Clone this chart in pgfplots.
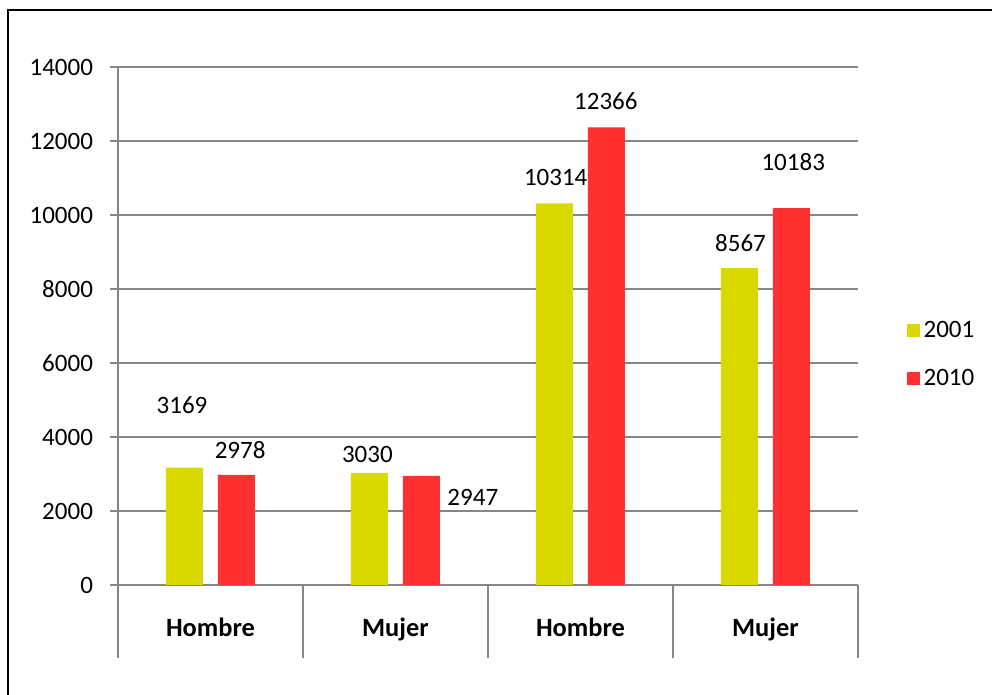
\documentclass[border=0pt]{standalone}
\usepackage{fontspec}
\setmainfont{Carlito}
\usepackage{pgfplots}
\pgfplotsset{compat=1.18}
\definecolor{cy}{RGB}{217,217,0}
\definecolor{cr}{RGB}{255,48,48}
\definecolor{gl}{RGB}{134,134,134}
\begin{document}
\begin{tikzpicture}
\useasboundingbox (0,0) rectangle (496pt,347.5pt);
\draw[line width=1.2pt,black] (4pt,-10pt) rectangle (505pt,342.5pt);
\begin{axis}[
  at={(59pt,55pt)}, anchor=south west,
  scale only axis, width=370pt, height=259pt,
  xmin=-0.5, xmax=3.5, ymin=0, ymax=14000,
  ytick={0,2000,...,14000},
  xtick={0,1,2,3},
  xticklabels={Hombre,Mujer,Hombre,Mujer},
  x tick label style={font=\fontsize{13.2}{15}\selectfont\bfseries, anchor=center, text height=1.6ex, text depth=0.4ex, yshift=-19pt},
  y tick label style={font=\fontsize{12.5}{15}\selectfont, xshift=-5pt},
  /pgf/number format/assume math mode=true,
  /pgf/number format/set thousands separator={},
  scaled y ticks=false,
  axis x line*=bottom, axis y line*=left,
  axis line style={gl, line width=0.9pt, -},
  ymajorgrids, grid style={gl, line width=0.9pt},
  tick align=outside,
  ytick style={gl, line width=0.9pt},
  xtick style={draw=none},
  major tick length=4pt,
  clip=false,
  ybar, bar width=18.5pt,
  legend style={at={(1.057,0.444)}, anchor=west, draw=none, fill=none,
    font=\fontsize{12.5}{15}\selectfont, row sep=10pt},
  legend image code/.code={\fill[#1] (0pt,-3pt) rectangle (6.5pt,3.5pt);},
]
\addplot[fill=cy, draw=none, bar shift=-13pt] coordinates {(0,3169) (1,3030) (2,10314) (3,8567)};
\addplot[fill=cr, draw=none, bar shift=13pt] coordinates {(0,2978) (1,2947) (2,12366) (3,10183)};
\legend{2001,2010}
\foreach \xx in {-0.5,0.5,1.5,2.5,3.5} {
  \edef\tmp{\noexpand\draw[gl, line width=0.9pt] (axis cs:\xx,0) -- ([yshift=-36.5pt]axis cs:\xx,0);}\tmp
}
\begin{scope}[every node/.style={font=\fontsize{12.5}{15}\selectfont}]
\node at (axis cs:-0.154,4865) {3169};
\node at (axis cs:0.16,3649) {2978};
\node at (axis cs:0.848,3514) {3030};
\node at (axis cs:1.418,2378) {2947};
\node at (axis cs:1.866,11027) {10314};
\node at (axis cs:2.137,13081) {12366};
\node at (axis cs:2.865,9243) {8567};
\node at (axis cs:3.15,11432) {10183};
\end{scope}
\end{axis}
\end{tikzpicture}
\end{document}
